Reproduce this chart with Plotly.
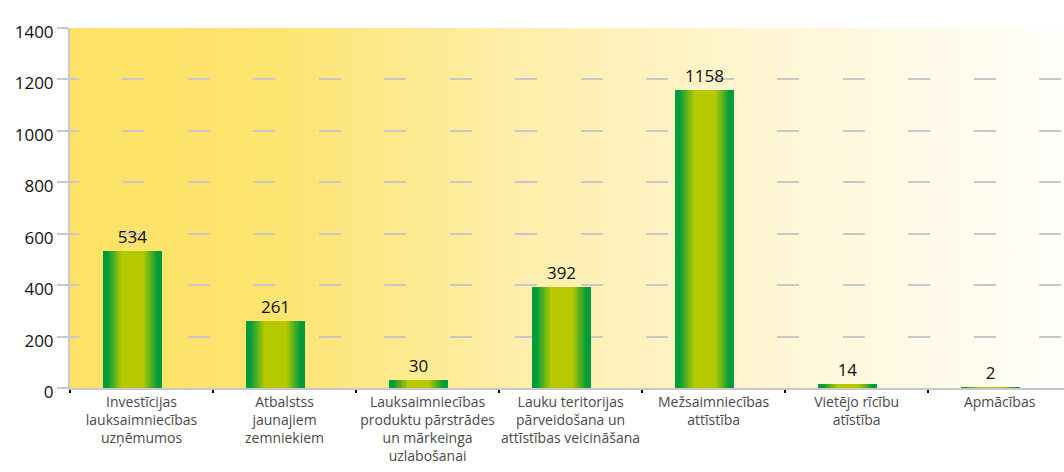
import base64
import plotly.graph_objects as go

# ---- data ----
categories = [
    "Investīcijas<br>lauksaimniecības<br>uzņēmumos",
    "Atbalstss<br>jaunajiem<br>zemniekiem",
    "Lauksaimniecības<br>produktu pārstrādes<br>un mārkeinga<br>uzlabošanai",
    "Lauku teritorijas<br>pārveidošana un<br>attīstības veicināšana",
    "Mežsaimniecības<br>attīstība",
    "Vietējo rīcību<br>atīstība",
    "Apmācības",
]
values = [534, 261, 30, 392, 1158, 14, 2]
value_labels = [str(v) for v in values]
y_tickvals = [0, 200, 400, 600, 800, 1000, 1200, 1400]

# ---- styling helpers ----
EDGE = (0, 155, 58)
CENTER = (181, 200, 0)


def profile(d):
    """colour at normalised distance d from bar centre (0 centre, 1 edge)"""
    if d <= 0.36:
        t = 0.0
    elif d >= 0.86:
        t = 1.0
    else:
        t = (d - 0.36) / (0.86 - 0.36)
    c = [round(CENTER[i] + (EDGE[i] - CENTER[i]) * t) for i in range(3)]
    return "rgb(%d,%d,%d)" % tuple(c)


BAR_W = 0.41
BAR_OFF = -0.268
N = 18

fig = go.Figure()
for k in range(N):
    d = 1 - k / N
    w = BAR_W * d
    off = BAR_OFF + (BAR_W - w) / 2
    dmid = 1 - (k + 0.5) / N
    fig.add_trace(go.Bar(
        x=categories, y=values,
        width=w, offset=off,
        marker=dict(color=profile(dmid), line=dict(width=0)),
        text=value_labels if k == 0 else None,
        textposition="outside" if k == 0 else "none",
        constraintext="none",
        cliponaxis=False,
        textfont=dict(family="Open Sans", size=17, color="#111111"),
        hoverinfo="skip",
        showlegend=False,
    ))

# background gradient for the plot area
svg = (
    '<svg xmlns="http://www.w3.org/2000/svg" width="1000" height="100" '
    'viewBox="0 0 1000 100" preserveAspectRatio="none">'
    '<defs><linearGradient id="g" x1="0" y1="0" x2="1" y2="0">'
    '<stop offset="0" stop-color="#FDE266"/>'
    '<stop offset="0.2" stop-color="#FDE46E"/>'
    '<stop offset="0.45" stop-color="#FEEEAA"/>'
    '<stop offset="0.72" stop-color="#FFF6D6"/>'
    '<stop offset="1" stop-color="#FFFEFA"/>'
    '</linearGradient></defs>'
    '<rect x="0" y="0" width="1000" height="100" fill="url(#g)"/></svg>'
)
src = "data:image/svg+xml;base64," + base64.b64encode(svg.encode()).decode()

fig.update_layout(
    width=1064, height=472,
    margin=dict(l=70, r=0, t=28, b=84),
    paper_bgcolor="white",
    plot_bgcolor="rgba(0,0,0,0)",
    barmode="overlay",
    bargap=0,
    showlegend=False,
    hovermode=False,
    images=[dict(source=src, xref="paper", yref="paper", x=0, y=1,
                 sizex=1, sizey=1, sizing="stretch", layer="below",
                 xanchor="left", yanchor="top")],
    xaxis=dict(
        type="category",
        range=[-0.5, 6.45],
        automargin=False,
        tickangle=0,
        tickson="boundaries",
        ticks="outside", ticklen=3, tickwidth=2, tickcolor="#000000",
        showline=True, linecolor="#C8C8C8", linewidth=2,
        showgrid=False,
        tickfont=dict(family="Open Sans", size=14, color="#4a4a4a"),
    ),
    yaxis=dict(
        range=[0, 1400],
        automargin=False,
        tickvals=y_tickvals,
        ticks="outside", ticklen=11, tickwidth=1.5, tickcolor="#C8C8C8",
        showline=True, linecolor="#C8C8C8", linewidth=2,
        showgrid=True, gridcolor="#C8C8C8", gridwidth=1.5,
        griddash="9px,43px,22px,44px,13px,0px",
        zeroline=False,
        tickfont=dict(family="Open Sans", size=17, color="#111111"),
        ticklabelshift=4,
    ),
    yaxis2=dict(
        overlaying="y", matches="y", side="left",
        automargin=False,
        range=[0, 1400], tickvals=y_tickvals,
        ticks="outside", ticklen=5, tickwidth=3, tickcolor="#000000",
        showticklabels=False, showgrid=False, showline=False, zeroline=False,
    ),
)

fig.write_html(
    "out.html",
    config={"displayModeBar": False},
    post_script="document.body.style.margin='0px';document.body.style.padding='0px';",
)
